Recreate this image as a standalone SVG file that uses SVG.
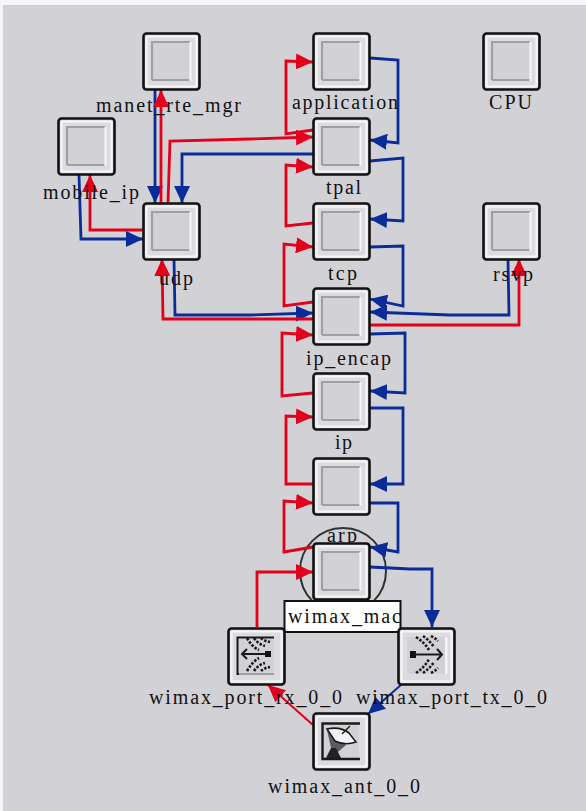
<svg xmlns="http://www.w3.org/2000/svg" width="586" height="811" viewBox="0 0 586 811">
<style>
text{font-family:"Liberation Serif","Times New Roman",serif;font-size:20px;fill:#111;text-anchor:start}
.r,.b{fill:none;stroke-width:2.8;stroke-linejoin:miter}
.r{stroke:#e2001a;marker-end:url(#ar)}
.b{stroke:#0b2c98;marker-end:url(#ab)}
.thin{stroke-width:2}
.ic{fill:none;stroke:#1a1a1a;stroke-width:2}
.dash{fill:none;stroke:#1a1a1a;stroke-width:2.600;stroke-dasharray:2.500 1.500}
</style>
<defs>
<marker id="ar" viewBox="0 0 17 16" refX="17" refY="8" markerWidth="17" markerHeight="16" markerUnits="userSpaceOnUse" orient="auto"><path d="M0 0L17 8L0 16Z" fill="#e2001a"/></marker>
<marker id="ab" viewBox="0 0 17 16" refX="17" refY="8" markerWidth="17" markerHeight="16" markerUnits="userSpaceOnUse" orient="auto"><path d="M0 0L17 8L0 16Z" fill="#0b2c98"/></marker>
<g id="frame">
<rect x="0.500" y="0.500" width="56" height="56" rx="3" fill="#dcdce0" stroke="#111" stroke-width="2.600"/>
<rect x="3.500" y="3.500" width="50" height="50" rx="1.500" fill="none" stroke="#f6f6f8" stroke-width="2"/>
</g>
<g id="plain">
<use href="#frame"/>
<rect x="9" y="9" width="38" height="38" fill="#d2d2d6"/>
<path d="M9 47V9H47M9 47H47" fill="none" stroke="#a0a0a4" stroke-width="2.200"/>
<path d="M47.500 9V48" fill="none" stroke="#f4f4f6" stroke-width="2.200"/>
</g>
</defs>
<rect width="586" height="811" fill="#f6f6f8"/>
<rect x="3" y="5" width="583" height="806" fill="#d2d2d6"/>
<circle cx="343" cy="571" r="43" fill="none" stroke="#2c3434" stroke-width="2"/>
<g id="connectors">
<path class="b" d="M155 90V203"/>
<path class="r" d="M161 203V90"/>
<path class="b" d="M313 154H182V203"/>
<path class="r" d="M168 203L170 141L250 139L313 137"/>
<path class="r" d="M313 130L286 134V61L313 62"/>
<path class="b" d="M370 58L398 60V143L370 140"/>
<path class="r" d="M313 223L286 226V165L313 167"/>
<path class="b" d="M370 161L403 158V221L370 219"/>
<path class="r" d="M313 302L284 306V244L313 247"/>
<path class="b" d="M370 247L403 246V306L370 299"/>
<path class="b" d="M508 260L509 315H450L370 312"/>
<path class="r" d="M370 325H519V259"/>
<path class="b" d="M174 259L175 315H250L313 313"/>
<path class="r" d="M313 319H163L162 259"/>
<path class="r" d="M143 230H90V175"/>
<path class="b" d="M79 175L81 239H143"/>
<path class="r" d="M313 393L282 396V333L313 335"/>
<path class="b" d="M370 334L405 333V393L370 391"/>
<path class="r" d="M313 484H286V416L313 417"/>
<path class="b" d="M370 408H403V484H370"/>
<path class="r" d="M313 547L284 552V501L313 503"/>
<path class="b" d="M370 503H398V552L370 547"/>
<path class="r" d="M257 627V572H313"/>
<path class="b" d="M370 567L410 569H432V627"/>
<path class="r thin" d="M313 725L268 685"/>
<path class="b thin" d="M402 684L368 714"/>
</g>
<g id="manet_rte_mgr"><use href="#plain" x="143" y="33"/><text x="96" y="112" textLength="145">manet_rte_mgr</text></g>
<g id="mobile_ip"><use href="#plain" x="58" y="118"/><text x="43" y="199" textLength="96">mobile_ip</text></g>
<g id="udp"><use href="#plain" x="143" y="203"/><text x="159" y="285" textLength="34">udp</text></g>
<g id="application"><use href="#plain" x="313" y="33"/><text x="292" y="109" textLength="106">application</text></g>
<g id="CPU"><use href="#plain" x="483" y="33"/><text x="489" y="109" textLength="43">CPU</text></g>
<g id="tpal"><use href="#plain" x="313" y="118"/><text x="326" y="194" textLength="35">tpal</text></g>
<g id="tcp"><use href="#plain" x="313" y="203"/><text x="328" y="280" textLength="29">tcp</text></g>
<g id="rsvp"><use href="#plain" x="483" y="203"/><text x="493" y="281" textLength="40">rsvp</text></g>
<g id="ip_encap"><use href="#plain" x="313" y="288"/><text x="306" y="365" textLength="85">ip_encap</text></g>
<g id="ip"><use href="#plain" x="313" y="373"/><text x="335" y="449" textLength="17">ip</text></g>
<g id="arp"><use href="#plain" x="313" y="458"/><text x="327" y="542" textLength="30">arp</text></g>
<g id="wimax_mac"><use href="#plain" x="313" y="543"/>
<rect x="284.500" y="601" width="116" height="31" fill="#fff" stroke="#111" stroke-width="2"/>
<text x="288" y="623" textLength="113">wimax_mac</text></g>
<g id="wimax_port_rx_0_0"><use href="#frame" x="228" y="628"/>
<rect x="237" y="637" width="37" height="37" fill="#d2d2d6"/>
<path d="M274 637.500H237.500V674H274" fill="none" stroke="#1a1a1a" stroke-width="2"/>
<path d="M239 674H274" stroke="#a0a0a4" stroke-width="2"/>
<path class="ic" d="M247 649L242 654L247 659M242 654H270"/>
<rect x="265" y="651" width="6" height="6" fill="#111"/>
<path class="dash" d="M247 638Q252 647 259 650M254 638Q258 644 265 646M261 638Q264 641 270 642M247 671Q252 662 259 658M254 671Q258 665 265 663M261 671Q264 668 270 667"/>
<text x="149" y="704" textLength="193">wimax_port_rx_0_0</text></g>
<g id="wimax_port_tx_0_0"><use href="#frame" x="398" y="628"/>
<rect x="407" y="637" width="38" height="37" fill="#d2d2d6"/>
<rect x="445" y="637" width="2.500" height="37" fill="#f4f4f6"/>
<rect x="410" y="651" width="6" height="7" fill="#111"/>
<path class="ic" d="M414 654.500H442M437 649L442 654.500L437 660"/>
<path class="dash" d="M416 637Q425 643 429 650M423 636Q430 641 434 647M431 636Q435 638 438 641M416 673Q425 667 429 659M423 673Q430 668 434 662M431 673Q435 671 438 668"/>
<text x="356" y="704" textLength="191">wimax_port_tx_0_0</text></g>
<g id="wimax_ant_0_0"><use href="#frame" x="313" y="713"/>
<rect x="322" y="723" width="37" height="36" fill="#d2d2d6"/>
<path d="M360 723.500H322.500V759H360" fill="none" stroke="#1a1a1a" stroke-width="2.400"/>
<path d="M327 730L346 745L338 752L331 748Z" fill="#5c5c5c"/>
<path d="M327 729Q340 726 349 733L356 742Q345 746 335 741Z" fill="#f4f4f6" stroke="#1a1a1a" stroke-width="1.600"/>
<path d="M342 734L350 726" stroke="#1a1a1a" stroke-width="1.500"/>
<path d="M326 758L331 748H336L341 758Z" fill="#222"/>
<text x="268" y="793" textLength="152">wimax_ant_0_0</text></g>
</svg>
